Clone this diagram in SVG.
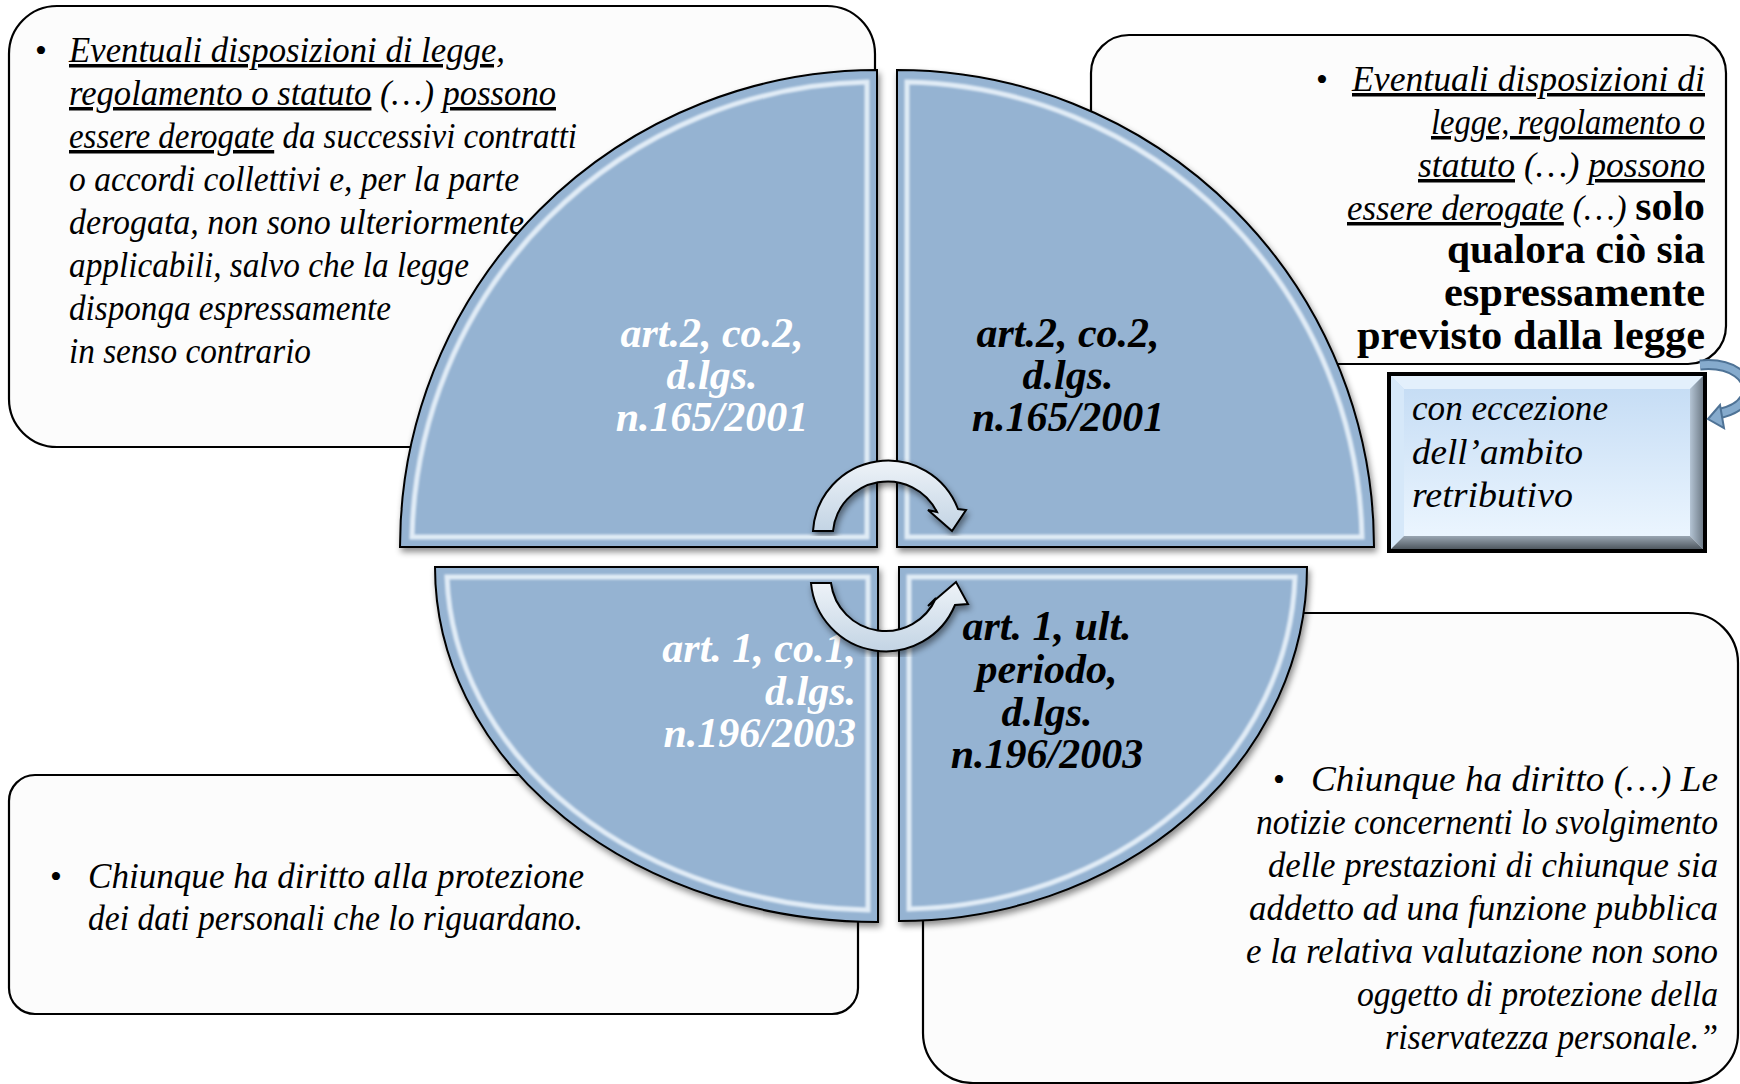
<svg xmlns="http://www.w3.org/2000/svg" width="1740" height="1084" viewBox="0 0 1740 1084">
<defs>
<style>
.box{fill:#fcfcfc;stroke:#000;stroke-width:2.2}
.quad{fill:#95b3d2;stroke:#000;stroke-width:2}
.bevel{fill:none;stroke:#f4faff;stroke-opacity:0.8;stroke-width:5}
.t{font-family:"Liberation Serif","Times New Roman",serif;font-style:italic;font-size:35px;fill:#000}
.u{text-decoration:underline}
.b{font-weight:bold;font-style:normal;font-size:42px}
.lbl{font-family:"Liberation Serif","Times New Roman",serif;font-style:italic;font-weight:bold;font-size:42px}
.w{fill:#fff}
.k{fill:#000}
.bul{font-family:"Liberation Serif",serif;font-size:34px;fill:#000}
.arr{fill:url(#arrG);stroke:#000;stroke-width:2}
</style>
<linearGradient id="arrG" x1="0" y1="0" x2="0" y2="1">
<stop offset="0" stop-color="#eef3f8"/>
<stop offset="1" stop-color="#c3d4e4"/>
</linearGradient>
<linearGradient id="ecc" x1="0" y1="0" x2="0" y2="1">
<stop offset="0" stop-color="#c3dbf4"/>
<stop offset="1" stop-color="#eef7ff"/>
</linearGradient>
<linearGradient id="eccBot" x1="0" y1="0" x2="0" y2="1">
<stop offset="0" stop-color="#9aa6b2"/>
<stop offset="1" stop-color="#4f5860"/>
</linearGradient>
<linearGradient id="eccR" x1="0" y1="0" x2="1" y2="0">
<stop offset="0" stop-color="#b4c4d4"/>
<stop offset="1" stop-color="#6f7c88"/>
</linearGradient>
<filter id="sh" x="-5%" y="-5%" width="112%" height="112%">
<feDropShadow dx="2" dy="4" stdDeviation="3" flood-color="#000" flood-opacity="0.45"/>
</filter>
<filter id="soft" x="-5%" y="-5%" width="110%" height="110%">
<feGaussianBlur stdDeviation="1.3"/>
</filter>
</defs>
<rect width="1740" height="1084" fill="#fff"/>

<!-- text boxes -->
<g id="box-tl">
<rect class="box" x="9" y="6" width="866" height="441" rx="48"/>
<text class="bul" x="35" y="62">•</text>
<text class="t" x="69" y="62" textLength="436" lengthAdjust="spacingAndGlyphs"><tspan class="u">Eventuali disposizioni di legge,</tspan></text>
<text class="t" x="69" y="105" textLength="487" lengthAdjust="spacingAndGlyphs"><tspan class="u">regolamento o statuto</tspan> (…) <tspan class="u">possono</tspan></text>
<text class="t" x="69" y="148" textLength="508" lengthAdjust="spacingAndGlyphs"><tspan class="u">essere derogate</tspan> da successivi contratti</text>
<text class="t" x="69" y="191" textLength="450" lengthAdjust="spacingAndGlyphs">o accordi collettivi e, per la parte</text>
<text class="t" x="69" y="234" textLength="455" lengthAdjust="spacingAndGlyphs">derogata, non sono ulteriormente</text>
<text class="t" x="69" y="277" textLength="400" lengthAdjust="spacingAndGlyphs">applicabili, salvo che la legge</text>
<text class="t" x="69" y="320" textLength="322" lengthAdjust="spacingAndGlyphs">disponga espressamente</text>
<text class="t" x="69" y="363" textLength="242" lengthAdjust="spacingAndGlyphs">in senso contrario</text>
</g>

<g id="box-tr">
<rect class="box" x="1091" y="35" width="635" height="329" rx="38"/>
<text class="bul" x="1316" y="91">•</text>
<text class="t" x="1705" y="91" text-anchor="end" textLength="353" lengthAdjust="spacingAndGlyphs"><tspan class="u">Eventuali disposizioni di</tspan></text>
<text class="t" x="1705" y="134" text-anchor="end" textLength="274" lengthAdjust="spacingAndGlyphs"><tspan class="u">legge, regolamento o</tspan></text>
<text class="t" x="1705" y="177" text-anchor="end" textLength="287" lengthAdjust="spacingAndGlyphs"><tspan class="u">statuto</tspan> (…) <tspan class="u">possono</tspan></text>
<text class="t" x="1705" y="220" text-anchor="end" textLength="358" lengthAdjust="spacingAndGlyphs"><tspan class="u">essere derogate</tspan> (…) <tspan class="b">solo</tspan></text>
<text class="t b" x="1705" y="263" text-anchor="end" textLength="258" lengthAdjust="spacingAndGlyphs">qualora ciò sia</text>
<text class="t b" x="1705" y="306" text-anchor="end" textLength="261" lengthAdjust="spacingAndGlyphs">espressamente</text>
<text class="t b" x="1705" y="349" text-anchor="end" textLength="348" lengthAdjust="spacingAndGlyphs">previsto dalla legge</text>
</g>

<g id="box-bl">
<rect class="box" x="9" y="775" width="849" height="239" rx="26"/>
<text class="bul" x="50" y="888">•</text>
<text class="t" x="88" y="888" textLength="496" lengthAdjust="spacingAndGlyphs">Chiunque ha diritto alla protezione</text>
<text class="t" x="88" y="930" textLength="495" lengthAdjust="spacingAndGlyphs">dei dati personali che lo riguardano.</text>
</g>

<g id="box-br">
<rect class="box" x="923" y="613" width="815" height="470" rx="50"/>
<text class="bul" x="1273" y="791">•</text>
<text class="t" x="1718" y="791" text-anchor="end" textLength="407" lengthAdjust="spacingAndGlyphs">Chiunque ha diritto (…) Le</text>
<text class="t" x="1718" y="834" text-anchor="end" textLength="462" lengthAdjust="spacingAndGlyphs">notizie concernenti lo svolgimento</text>
<text class="t" x="1718" y="877" text-anchor="end" textLength="450" lengthAdjust="spacingAndGlyphs">delle prestazioni di chiunque sia</text>
<text class="t" x="1718" y="920" text-anchor="end" textLength="469" lengthAdjust="spacingAndGlyphs">addetto ad una funzione pubblica</text>
<text class="t" x="1718" y="963" text-anchor="end" textLength="472" lengthAdjust="spacingAndGlyphs">e la relativa valutazione non sono</text>
<text class="t" x="1718" y="1006" text-anchor="end" textLength="361" lengthAdjust="spacingAndGlyphs">oggetto di protezione della</text>
<text class="t" x="1718" y="1049" text-anchor="end" textLength="333" lengthAdjust="spacingAndGlyphs">riservatezza personale.”</text>
</g>

<!-- quadrants -->
<g id="quad-tl">
<path class="quad" filter="url(#sh)" d="M877,70 A477,477 0 0 0 400,547 L877,547 Z"/>
<path class="bevel" filter="url(#soft)" d="M867,82 A465,465 0 0 0 412,537 L867,537 Z"/>
<text class="lbl w" text-anchor="middle" x="712" y="347">art.2, co.2,</text>
<text class="lbl w" text-anchor="middle" x="712" y="389">d.lgs.</text>
<text class="lbl w" text-anchor="middle" x="712" y="431">n.165/2001</text>
</g>

<g id="quad-tr">
<path class="quad" filter="url(#sh)" d="M897,70 A477,477 0 0 1 1374,547 L897,547 Z"/>
<path class="bevel" filter="url(#soft)" d="M907,82 A465,465 0 0 1 1362,537 L907,537 Z"/>
<text class="lbl k" text-anchor="middle" x="1068" y="347">art.2, co.2,</text>
<text class="lbl k" text-anchor="middle" x="1068" y="389">d.lgs.</text>
<text class="lbl k" text-anchor="middle" x="1068" y="431">n.165/2001</text>
</g>

<g id="quad-bl">
<path class="quad" filter="url(#sh)" d="M435,567 L878,567 L878,922 A443,355 0 0 1 435,567 Z"/>
<path class="bevel" filter="url(#soft)" d="M447,577 L868,577 L868,910 A431,343 0 0 1 447,577 Z"/>
<text class="lbl w" text-anchor="end" x="856" y="662">art. 1, co.1,</text>
<text class="lbl w" text-anchor="end" x="856" y="705">d.lgs.</text>
<text class="lbl w" text-anchor="end" x="856" y="747">n.196/2003</text>
</g>

<g id="quad-br">
<path class="quad" filter="url(#sh)" d="M899,567 L1307,567 A408,354 0 0 1 899,921 Z"/>
<path class="bevel" filter="url(#soft)" d="M909,577 L1295,577 A396,342 0 0 1 909,909 Z"/>
<text class="lbl k" text-anchor="middle" x="1047" y="640">art. 1, ult.</text>
<text class="lbl k" text-anchor="middle" x="1047" y="683">periodo,</text>
<text class="lbl k" text-anchor="middle" x="1047" y="726">d.lgs.</text>
<text class="lbl k" text-anchor="middle" x="1047" y="768">n.196/2003</text>
</g>

<!-- exception box -->
<g id="box-eccezione">
<rect x="1387" y="372" width="320" height="181" fill="#000"/>
<rect x="1391" y="376" width="312" height="173" fill="url(#ecc)"/>
<polygon points="1391,376 1703,376 1690,389 1404,389" fill="#e3f0fc"/>
<polygon points="1391,376 1404,389 1404,536 1391,549" fill="#d6e8f9"/>
<polygon points="1703,376 1703,549 1690,536 1690,389" fill="url(#eccR)"/>
<polygon points="1391,549 1404,536 1690,536 1703,549" fill="url(#eccBot)"/>
<text class="t" x="1412" y="420" style="font-size:36px" textLength="196" lengthAdjust="spacingAndGlyphs">con eccezione</text>
<text class="t" x="1412" y="464" style="font-size:36px" textLength="171" lengthAdjust="spacingAndGlyphs">dell’ambito</text>
<text class="t" x="1412" y="507" style="font-size:36px" textLength="161" lengthAdjust="spacingAndGlyphs">retributivo</text>
</g>

<!-- connectors -->
<g id="connectors">
<path class="arr" filter="url(#sh)" d="M813,531 A75,75 0 0 1 958,509 L966,510 L952,531 L928,510 L937,512 A55,55 0 0 0 833,531 Z"/>
<path class="arr" filter="url(#sh)" d="M811,583 A75,75 0 0 0 955,605 L968,604 L956,582 L928,606 L936,598 A55,55 0 0 1 831,583 Z"/>
<path d="M1700,365 C1732,362 1752,378 1746,396 C1742,406 1732,411 1718,414" fill="none" stroke="#4f7396" stroke-width="11"/>
<path d="M1700,365 C1732,362 1752,378 1746,396 C1742,406 1732,411 1718,414" fill="none" stroke="#86abcd" stroke-width="7"/>
<polygon points="1708,419 1720,405 1724,428" fill="#86abcd" stroke="#4f7396" stroke-width="2"/>
</g>
</svg>
